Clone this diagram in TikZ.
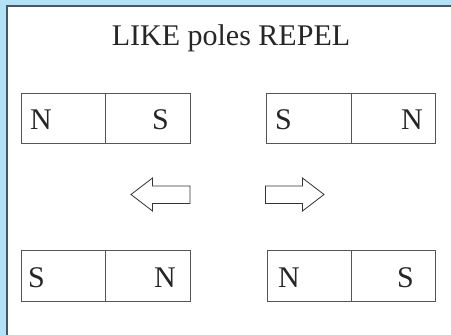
\documentclass[tikz,border=0pt]{standalone}
\usepackage{fontspec}
\setmainfont{Liberation Serif}
\definecolor{bgblue}{HTML}{B3E2F7}
\definecolor{panelline}{HTML}{4A5560}
\definecolor{boxline}{HTML}{555555}
\tikzset{
  magnet/.style={draw=boxline, line width=0.8pt, fill=none},
  pole/.style={inner sep=0pt, font=\fontsize{30}{31}\selectfont, text=black!85},
  bigarrow/.style={draw=black!80, line width=0.8pt, fill=white, line join=miter}
}
\begin{document}
\begin{tikzpicture}[x=1pt, y=-1pt]
\useasboundingbox (0,0) rectangle (451,335);
\fill[bgblue] (0,0) rectangle (451,335);
\fill[white] (7,6) rectangle (452,336);
\draw[panelline, line width=2pt] (7,336) -- (7,6) -- (452,6);
\node[pole, anchor=base] (title) at (231,45) {LIKE poles REPEL};
% top-left magnet
\draw[magnet] (21,93) rectangle (190,143);
\draw[magnet] (105.5,93) -- (105.5,143);
\node[pole, anchor=base west] (n1) at (30,129) {N};
\node[pole, anchor=base east] (s1) at (169,129) {S};
% top-right magnet
\draw[magnet] (266,93) rectangle (435,143);
\draw[magnet] (351,93) -- (351,143);
\node[pole, anchor=base west] (s2) at (275,129) {S};
\node[pole, anchor=base east] (n2) at (423,129) {N};
% bottom-left magnet
\draw[magnet] (21,250) rectangle (190,301);
\draw[magnet] (105.5,250) -- (105.5,301);
\node[pole, anchor=base west] (s3) at (28,287) {S};
\node[pole, anchor=base east] (n3) at (176,287) {N};
% bottom-right magnet
\draw[magnet] (267,250) rectangle (435,301);
\draw[magnet] (351,250) -- (351,301);
\node[pole, anchor=base west] (n4) at (278,287) {N};
\node[pole, anchor=base east] (s4) at (414,287) {S};
% arrows
\draw[bigarrow] (131,194.5) -- (152.5,178) -- (152.5,186) -- (190,186) -- (190,203.5) -- (152.5,203.5) -- (152.5,211) -- cycle;
\draw[bigarrow] (324,194.5) -- (302.5,178) -- (302.5,186) -- (265.5,186) -- (265.5,203.5) -- (302.5,203.5) -- (302.5,211) -- cycle;
\end{tikzpicture}
\end{document}
